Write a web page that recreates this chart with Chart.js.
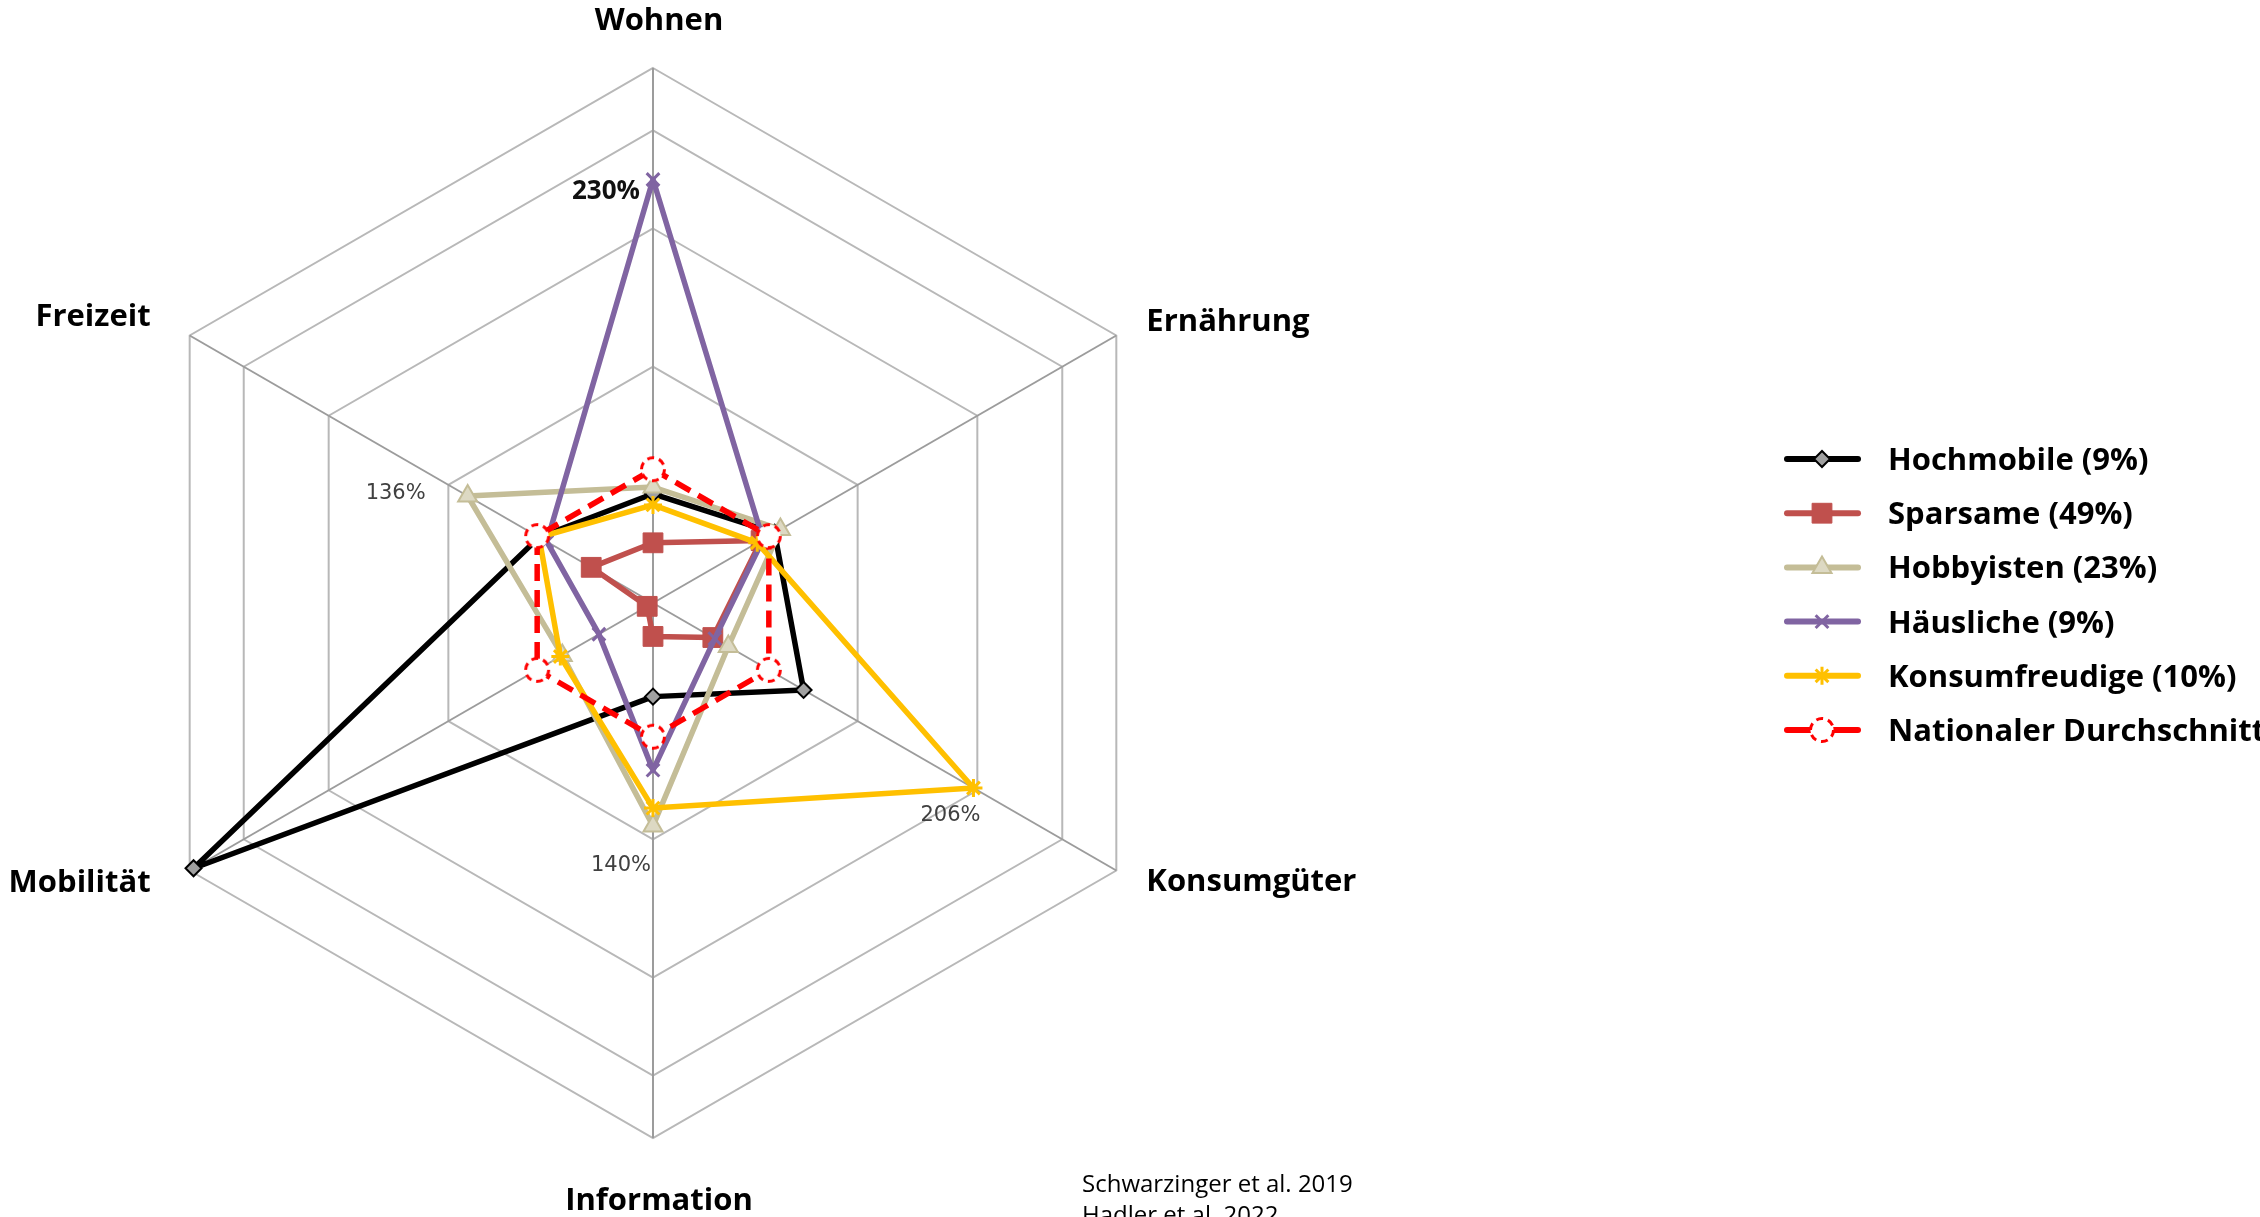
<!DOCTYPE html>
<html lang="de">
<head>
<meta charset="utf-8">
<title>Lebensstil-Typen</title>
<script src="https://cdn.jsdelivr.net/npm/chart.js@4.4.1/dist/chart.umd.min.js"></script>
<style>
  html, body { margin: 0; padding: 0; background: #fff; overflow: hidden; }
  #wrap { position: relative; width: 2260px; height: 1217px; }
</style>
</head>
<body>
<div id="wrap"><canvas id="radar" width="2260" height="1217"></canvas></div>
<script>
const categories = ['Wohnen', 'Ernährung', 'Konsumgüter', 'Information', 'Mobilität', 'Freizeit'];

// values in % of the national average
const hochmobile     = [89, 103, 118, 82, 278, 99];
const sparsame       = [67, 96, 71, 55, 43, 72];
const hobbyisten     = [92, 106, 79, 140, 87, 136];
const haeusliche     = [230, 97, 72, 115, 68, 95];
const konsumfreudige = [84, 94, 206, 132, 88, 99];
const durchschnitt   = [100, 100, 100, 100, 100, 100];

const seriesNames = [
    'Hochmobile (9%)',
    'Sparsame (49%)',
    'Hobbyisten (23%)',
    'Häusliche (9%)',
    'Konsumfreudige (10%)',
    'Nationaler Durchschnitt',
];

// rings of the web (the original ones are not evenly spaced)
const ringValues = [40, 146, 208, 252, 280];

// [series, category] of the values written next to their point
const labelledPoints = [[3, 0], [2, 5], [4, 2], [2, 3]];

const sources = ['Schwarzinger et al. 2019', 'Hadler et al. 2022'];

function dashedCircle() {
    let c = document.createElement('canvas');
    c.width = 30;
    c.height = 30;
    let g = c.getContext('2d');
    g.fillStyle = '#fff';
    g.strokeStyle = '#ff0000';
    g.lineWidth = 3;
    g.setLineDash([7, 5]);
    g.beginPath();
    g.arc(15, 15, 11.5, 0, Math.PI * 2);
    g.fill();
    g.stroke();
    return c;
}

const datasets = [
    {
        label: seriesNames[0], data: hochmobile, order: 6,
        borderColor: '#000000',
        pointStyle: 'rectRot', pointRadius: 8,
        pointBackgroundColor: '#a0a0a0', pointBorderColor: '#000000', pointBorderWidth: 2,
    },
    {
        label: seriesNames[1], data: sparsame, order: 5,
        borderColor: '#c0504d',
        pointStyle: 'rect', pointRadius: 14,
        pointBackgroundColor: '#c0504d', pointBorderColor: '#c0504d', pointBorderWidth: 1,
    },
    {
        label: seriesNames[2], data: hobbyisten, order: 4,
        borderColor: '#c4bd97',
        pointStyle: 'triangle', pointRadius: 11,
        pointBackgroundColor: '#ddd9c3', pointBorderColor: '#c4bd97', pointBorderWidth: 2,
    },
    {
        label: seriesNames[3], data: haeusliche, order: 3,
        borderColor: '#8064a2',
        pointStyle: 'crossRot', pointRadius: 9,
        pointBackgroundColor: '#8064a2', pointBorderColor: '#8064a2', pointBorderWidth: 3,
    },
    {
        label: seriesNames[4], data: konsumfreudige, order: 2,
        borderColor: '#ffc000',
        pointStyle: 'star', pointRadius: 9,
        pointBackgroundColor: '#fcd5b4', pointBorderColor: '#ffc000', pointBorderWidth: 3,
    },
    {
        label: seriesNames[5], data: durchschnitt, order: 1,
        borderColor: '#ff0000', borderDash: [17, 9],
        pointStyle: dashedCircle(), pointRadius: 12,
        pointBackgroundColor: '#ffffff', pointBorderColor: '#ff0000', pointBorderWidth: 3,
    },
];
datasets.forEach(ds => {
    ds.borderWidth = 5.5;
    ds.fill = false;
    ds.backgroundColor = 'rgba(0,0,0,0)';
    ds.borderJoinStyle = 'round';
});

const overlay = {
    id: 'overlay',
    afterDraw(chart) {
        let ctx = chart.ctx;
        let scale = chart.scales.r;
        ctx.save();

        // category names around the web
        let place = [
            [6, -38, 'center'],
            [30, -5, 'left'],
            [30, 20, 'left'],
            [6, 72, 'center'],
            [-39, 21, 'right'],
            [-39, -10, 'right'],
        ];
        ctx.font = 'bold 31px "Open Sans"';
        ctx.fillStyle = '#000';
        ctx.textBaseline = 'alphabetic';
        categories.forEach((name, i) => {
            let p = scale.getPointPosition(i, scale.drawingArea);
            ctx.textAlign = place[i][2];
            ctx.fillText(name, p.x + place[i][0], p.y + place[i][1]);
        });

        // values written next to some points
        let offsets = [[-13, 12], [-42, -2], [7, 28], [-2, 40]];
        ctx.textAlign = 'right';
        ctx.textBaseline = 'middle';
        labelledPoints.forEach(([ds, i], k) => {
            let pt = chart.getDatasetMeta(ds).data[i];
            let value = chart.data.datasets[ds].data[i];
            if (k === 0) {
                ctx.font = 'bold 26px "Open Sans"';
                ctx.fillStyle = '#111';
            } else {
                ctx.font = '21px "DejaVu Sans"';
                ctx.fillStyle = '#404040';
            }
            ctx.fillText(value + '%', pt.x + offsets[k][0], pt.y + offsets[k][1]);
        });

        // legend
        let top = 459;
        let step = 54.2;
        chart.data.datasets.forEach((ds, i) => {
            let y = top + i * step;
            ctx.setLineDash([]);
            ctx.lineCap = 'round';
            ctx.lineWidth = 6;
            ctx.strokeStyle = ds.borderColor;
            ctx.beginPath();
            ctx.moveTo(1787, y);
            ctx.lineTo(1858, y);
            ctx.stroke();
            ctx.lineCap = 'butt';
            ctx.fillStyle = ds.pointBackgroundColor;
            ctx.strokeStyle = ds.pointBorderColor;
            ctx.lineWidth = ds.pointBorderWidth;
            Chart.helpers.drawPoint(ctx, {
                pointStyle: ds.pointStyle,
                radius: ds.pointRadius,
                borderWidth: ds.pointBorderWidth,
                rotation: 0,
            }, 1822, y);
            ctx.fillStyle = '#000';
            ctx.font = 'bold 31px "Open Sans"';
            ctx.textAlign = 'left';
            ctx.textBaseline = 'alphabetic';
            ctx.fillText(ds.label, 1888, y + 11);
        });

        // sources
        ctx.font = '24px "Open Sans"';
        ctx.fillStyle = '#000';
        sources.forEach((s, i) => {
            ctx.fillText(s, 1082, 1192 + i * 31);
        });

        ctx.restore();
    }
};

let ctx = document.getElementById('radar').getContext('2d');
let chart = new Chart(ctx, {
    type: 'radar',
    data: {
        labels: categories,
        datasets: datasets,
    },
    options: {
        responsive: false,
        animation: false,
        events: [],
        layout: {
            padding: { left: 118, top: 68, right: 1072, bottom: 79 },
        },
        plugins: {
            legend: { display: false },
            tooltip: { enabled: false },
        },
        elements: {
            line: { tension: 0 },
        },
        scales: {
            r: {
                min: ringValues[0],
                max: ringValues[ringValues.length - 1],
                afterBuildTicks: axis => {
                    axis.ticks = ringValues.map(v => ({ value: v }));
                },
                ticks: { display: false },
                pointLabels: { display: false },
                grid: { color: '#b8b8b8', lineWidth: 2 },
                angleLines: { color: '#9c9c9c', lineWidth: 2 },
            },
        },
    },
    plugins: [overlay],
});
</script>
</body>
</html>
